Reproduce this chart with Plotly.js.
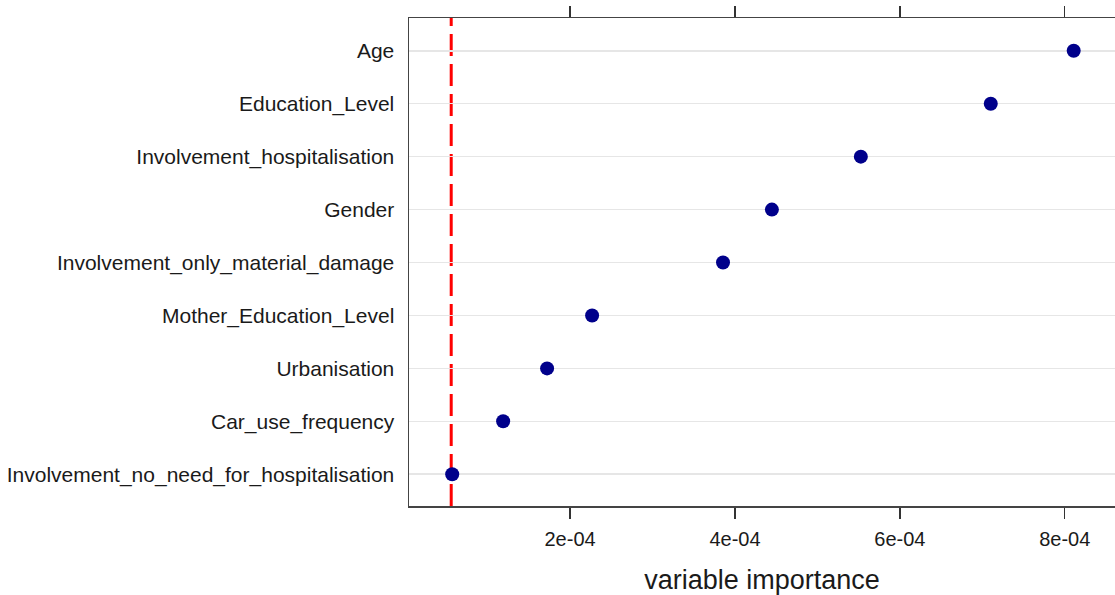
<!DOCTYPE html>
<html>
<head>
<meta charset="utf-8">
<script src="https://cdn.plot.ly/plotly-3.0.1.min.js"></script>
<style>html,body{margin:0;padding:0;background:#fff;}#chart{width:1115px;height:595px;}</style>
</head>
<body>
<div id="chart"></div>
<script>
// Variables (bottom to top)
const variables = [
  "Involvement_no_need_for_hospitalisation",
  "Car_use_frequency",
  "Urbanisation",
  "Mother_Education_Level",
  "Involvement_only_material_damage",
  "Gender",
  "Involvement_hospitalisation",
  "Education_Level",
  "Age"
];
const importance = [0.570e-4, 1.188e-4, 1.721e-4, 2.267e-4, 3.855e-4, 4.448e-4, 5.527e-4, 7.103e-4, 8.109e-4];
const referenceLine = 0.558e-4;
const xTickVals = [2e-4, 4e-4, 6e-4, 8e-4];
const xTickText = ["2e-04", "4e-04", "6e-04", "8e-04"];

const idx = variables.map((_, i) => i);

const traces = [{
  type: "scatter",
  mode: "markers",
  x: importance,
  y: idx,
  marker: {color: "#00008b", size: 14},
  cliponaxis: false,
  hoverinfo: "x+text",
  text: variables
}];

const layout = {
  width: 1115,
  height: 595,
  margin: {l: 409, r: 0, t: 18, b: 89},
  paper_bgcolor: "#ffffff",
  plot_bgcolor: "#ffffff",
  showlegend: false,
  font: {family: "Liberation Sans, Arial, sans-serif", size: 20, color: "#1a1a1a"},
  xaxis: {
    range: [0.046e-4, 8.61e-4],
    tickvals: xTickVals,
    ticktext: xTickText,
    ticks: "outside",
    ticklen: 11,
    tickwidth: 1.5,
    tickcolor: "#333333",
    ticklabelstandoff: 3,
    showline: true,
    linecolor: "#444444",
    linewidth: 1.5,
    mirror: "ticks",
    showgrid: false,
    zeroline: false,
    tickfont: {size: 20},
    title: {text: "variable importance", font: {size: 27}, standoff: 21}
  },
  yaxis: {
    range: [-0.6, 8.62],
    tickvals: idx,
    ticktext: variables,
    ticks: "outside",
    ticklen: 9,
    tickcolor: "rgba(0,0,0,0)",
    showline: true,
    linecolor: "#444444",
    linewidth: 1.5,
    mirror: false,
    showgrid: true,
    gridcolor: "#e6e6e6",
    gridwidth: 1.5,
    zeroline: false,
    tickfont: {size: 21}
  },
  shapes: [{
    type: "line",
    xref: "x",
    yref: "paper",
    x0: referenceLine,
    x1: referenceLine,
    y0: 0,
    y1: 1,
    layer: "below",
    line: {color: "#ff0000", width: 3, dash: "22px,8px"}
  }]
};

Plotly.newPlot("chart", traces, layout, {displayModeBar: false, staticPlot: true});
</script>
</body>
</html>
